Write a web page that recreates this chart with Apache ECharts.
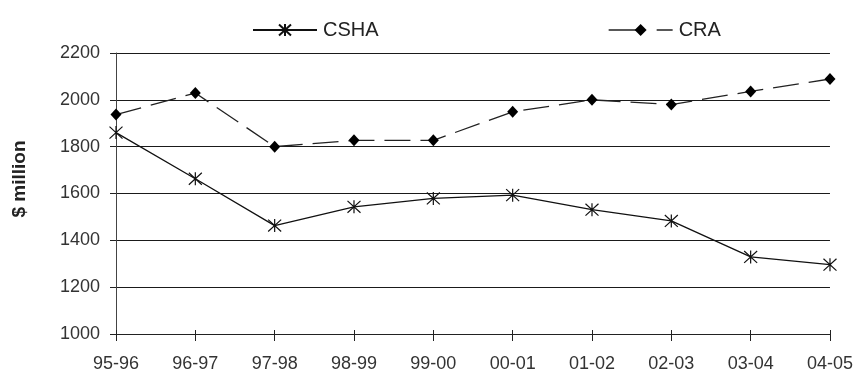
<!DOCTYPE html>
<html>
<head>
<meta charset="utf-8">
<script src="https://cdn.jsdelivr.net/npm/echarts@6/dist/echarts.min.js"></script>
<style>
  html, body { margin: 0; padding: 0; background: #fff; }
  #chart { width: 856px; height: 374px; }
</style>
</head>
<body>
<div id="chart"></div>
<script>
// Financial years on the category axis
const years = ['95-96', '96-97', '97-98', '98-99', '99-00', '00-01', '01-02', '02-03', '03-04', '04-05'];
// Funding in $ million
const cshaValues = [1860, 1663, 1463, 1543, 1579, 1593, 1531, 1483, 1329, 1296];
const craValues = [1937, 2029, 1800, 1827, 1827, 1949, 2000, 1980, 2036, 2089];
// Value axis ticks
const yTicks = [1000, 1200, 1400, 1600, 1800, 2000, 2200];

const FONT = '"Liberation Sans", Arial, sans-serif';
// Asterisk marker: vertical stroke plus a cross
const STAR = 'path://M0,-6L0,6M-5.5,-5.5L5.5,5.5M5.5,-5.5L-5.5,5.5';

const chart = echarts.init(document.getElementById('chart'), null, { renderer: 'canvas' });

chart.setOption({
  animation: false,
  backgroundColor: '#fff',
  grid: { left: 116, right: 26, top: 53, bottom: 40, containLabel: false },
  legend: [
    {
      data: ['CSHA'], left: 247, top: 15, itemWidth: 64, itemHeight: 15,
      textStyle: { fontFamily: FONT, fontSize: 20, color: '#222', padding: [0, 0, 0, 1] }
    },
    {
      data: ['CRA'], left: 603, top: 15, itemWidth: 64, itemHeight: 15,
      lineStyle: { type: [29, 19], width: 1.3, color: '#222' },
      textStyle: { fontFamily: FONT, fontSize: 20, color: '#222', padding: [0, 0, 0, 1] }
    }
  ],
  graphic: [{
    type: 'text',
    x: 20, y: 179,
    rotation: Math.PI / 2,
    style: {
      text: '$ million',
      font: 'bold 19px ' + FONT,
      fill: '#222',
      textAlign: 'center',
      textVerticalAlign: 'middle'
    }
  }],
  xAxis: [
    {
      type: 'category', data: years, boundaryGap: false,
      axisLine: { lineStyle: { color: '#222', width: 1 } },
      axisTick: { show: true, length: 7, lineStyle: { color: '#222' } },
      axisLabel: { fontFamily: FONT, fontSize: 18, color: '#333', margin: 21 },
      splitLine: { show: false }
    },
    {
      type: 'category', data: years, boundaryGap: false, position: 'bottom',
      axisLine: { show: false },
      axisTick: { show: true, inside: true, length: 4, lineStyle: { color: '#222' } },
      axisLabel: { show: false },
      splitLine: { show: false }
    }
  ],
  yAxis: {
    type: 'value',
    min: yTicks[0], max: yTicks[yTicks.length - 1], interval: 200,
    axisLine: { show: true, lineStyle: { color: '#444', width: 1 } },
    axisTick: { show: true, length: 6, lineStyle: { color: '#222' } },
    axisLabel: { fontFamily: FONT, fontSize: 18, color: '#333', margin: 16, formatter: v => String(v) },
    splitLine: { show: true, lineStyle: { color: '#1a1a1a', width: 1 } }
  },
  series: [
    {
      name: 'CSHA', type: 'line', data: cshaValues,
      symbol: STAR, symbolSize: 13, showAllSymbol: true,
      lineStyle: { color: '#111', width: 1.3 },
      itemStyle: { color: '#111', borderColor: '#111', borderWidth: 1.2 },
      z: 3
    },
    {
      name: 'CRA', type: 'line', data: craValues,
      symbol: 'diamond', symbolSize: [11, 12], showAllSymbol: true,
      lineStyle: { color: '#222', width: 1.3, type: [26, 10] },
      itemStyle: { color: '#000', borderWidth: 0 },
      z: 3
    }
  ]
});
</script>
</body>
</html>
